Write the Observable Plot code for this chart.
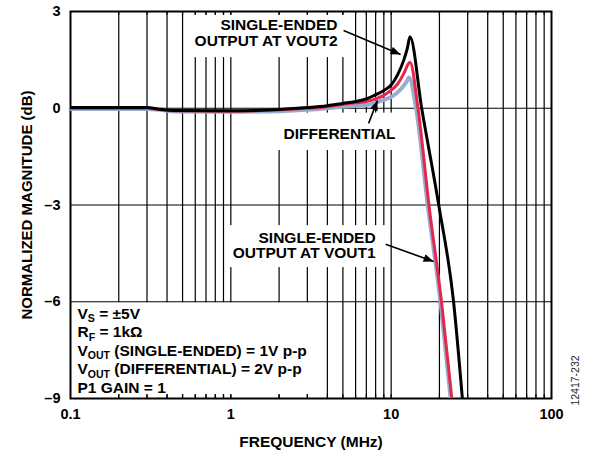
<!DOCTYPE html>
<html><head><meta charset="utf-8">
<script src="https://cdn.jsdelivr.net/npm/d3@7"></script>
<script src="https://cdn.jsdelivr.net/npm/@observablehq/plot@0.6"></script>
<style>
body{margin:0;background:#fff;}
#chart{width:590px;height:454px;}
</style></head><body><div id="chart"></div>
<script>
// ---- data ----
const freqSE2 = [0.1, 0.3, 0.36, 0.45, 1, 2, 3, 4, 5, 6, 7, 8, 9, 10, 11, 12, 12.6, 13.1, 15.5, 19.8, 24.5, 27.8];
const magSE2  = [0.02, 0.02, -0.03, -0.07, -0.08, -0.04, 0.02, 0.08, 0.15, 0.21, 0.29, 0.42, 0.55, 0.72, 1.05, 1.5, 1.85, 2.22, 0, -3, -6, -9];
const freqDiff = [0.1, 0.3, 0.36, 0.45, 1, 2, 3, 4, 5, 6, 7, 8, 9, 10, 11, 12, 12.8, 13.1, 14.7, 17.2, 20.6, 23.9];
const magDiff  = [0.0, 0.0, -0.04, -0.08, -0.09, -0.05, 0.0, 0.05, 0.12, 0.17, 0.21, 0.29, 0.4, 0.56, 0.76, 1.08, 1.38, 1.43, 0, -3, -6, -9];
const freqSE1 = [0.1, 0.3, 0.36, 0.45, 1, 2, 3, 4, 5, 6, 7, 8, 9, 10, 11, 11.8, 12.4, 12.9, 14.3, 16.9, 20.3, 23.5];
const magSE1  = [-0.02, -0.02, -0.05, -0.1, -0.11, -0.09, -0.05, 0.0, 0.05, 0.08, 0.1, 0.17, 0.26, 0.35, 0.5, 0.66, 0.8, 0.95, 0, -3, -6, -9];

const xTicks = [0.1, 1, 10, 100];
const yTicks = [-9, -6, -3, 0, 3];
const gridX = [0.2,0.3,0.4,0.5,0.6,0.7,0.8,0.9,1,2,3,4,5,6,7,8,9,10,20,30,40,50,60,70,80,90];
const gridY = [-6, -3, 0];

const labels = [
  {x: 4.63, y: 2.33, text: "SINGLE-ENDED\nOUTPUT AT VOUT2"},
  {x: 10.65, y: -0.80, text: "DIFFERENTIAL"},
  {x: 8.0, y: -4.25, text: "SINGLE-ENDED\nOUTPUT AT VOUT1"}
];
const legendLines = ["V_S = ±5V", "R_F = 1kΩ", "V_OUT (SINGLE-ENDED) = 1V p-p", "V_OUT (DIFFERENTIAL) = 2V p-p", "P1 GAIN = 1"];
const boxes = [
  {x1: 0.55, x2: 5.4, y1: 2.88, y2: 1.57},
  {x1: 1.8, x2: 11.4, y1: -0.15, y2: -1.31},
  {x1: 0.94, x2: 9.5, y1: -3.64, y2: -4.94},
  {x1: 0.1, x2: 3.63, y1: -6.03, y2: -8.88}
];
const arrows = [
  {x1: 5.05, y1: 2.41, x2: 11.45, y2: 1.67},
  {x1: 7.23, y1: -0.47, x2: 8.22, y2: 0.24},
  {x1: 9.23, y1: -4.22, x2: 18.4, y2: -4.75}
];

const toRows = (f, m) => f.map((x, i) => ({x, y: m[i]}));
const se2 = toRows(freqSE2, magSE2);
const diff = toRows(freqDiff, magDiff);
const se1 = toRows(freqSE1, magSE1);

const font = "'Liberation Sans', Arial, sans-serif";

const chart = Plot.plot({
  width: 590, height: 454,
  marginLeft: 70, marginRight: 39, marginTop: 11, marginBottom: 56,
  style: {fontFamily: font, fontSize: "14.5px", fontWeight: "bold", color: "#000", background: "#fff"},
  x: {type: "log", domain: [0.1, 100]},
  y: {domain: [-9, 3]},
  marks: [
    Plot.ruleX(gridX, {stroke: "#000", strokeWidth: 1.2}),
    Plot.rect(boxes, {x1: "x1", x2: "x2", y1: "y1", y2: "y2", fill: "#fff"}),
    Plot.ruleY(gridY, {stroke: "#000", strokeWidth: 1.2}),
    Plot.ruleX(gridX, {y1: -9, y2: -8.88, stroke: "#000", strokeWidth: 1.2}),
    Plot.ruleX(gridX, {y1: 3, y2: 2.88, stroke: "#000", strokeWidth: 1.2}),
    Plot.frame({stroke: "#000", strokeWidth: 2}),
    Plot.line(se1, {x: "x", y: "y", stroke: "#98acd0", strokeWidth: 4, curve: "monotone-x", clip: true}),
    Plot.line(diff, {x: "x", y: "y", stroke: "#e3284b", strokeWidth: 3, curve: "monotone-x", clip: true}),
    Plot.line(se2, {x: "x", y: "y", stroke: "#000", strokeWidth: 3, curve: "monotone-x", clip: true}),
    Plot.link(arrows, {x1: "x1", y1: "y1", x2: "x2", y2: "y2", stroke: "#000", strokeWidth: 1.6}),
    Plot.text(labels, {x: "x", y: "y", text: "text", textAnchor: "end", lineAnchor: "middle", lineHeight: 1.0, fontSize: 15.5, fontWeight: "bold", fill: "#000"}),
    Plot.text([legendLines.join("\n")], {frameAnchor: "bottom-left", dx: 7, dy: -6, textAnchor: "start", lineAnchor: "bottom", lineHeight: 1.19, fontSize: 15.5, fontWeight: "bold", fill: "#000"}),
    Plot.text(["12417-232"], {frameAnchor: "bottom-right", dx: 27, dy: -18, rotate: -90, textAnchor: "middle", fontSize: 10.5, fontWeight: "normal", fill: "#222"}),
    Plot.axisX(xTicks, {anchor: "bottom", tickSize: 0, tickPadding: 10, tickFormat: d => String(d), label: null, fontSize: 14.5}),
    Plot.text(["FREQUENCY (MHz)"], {frameAnchor: "bottom", dy: 48, fontSize: 15.5, fontWeight: "bold", fill: "#000", lineAnchor: "bottom"}),
    Plot.axisY(yTicks, {anchor: "left", tickSize: 0, tickPadding: 10, tickFormat: d => String(d).replace("-", "\u2013"), label: null, fontSize: 14.5}),
    Plot.text(["NORMALIZED MAGNITUDE (dB)"], {frameAnchor: "left", dx: -43, rotate: -90, textAnchor: "middle", lineAnchor: "middle", fontSize: 15, fontWeight: "bold", fill: "#000"})
  ]
});

// subscripts in the condition block
d3.select(chart).selectAll("tspan, text").each(function() {
  if (this.children.length) return;
  const t = this.textContent;
  const m = t.match(/^([^_]*)_([A-Z]+)(.*)$/);
  if (!m) return;
  const el = d3.select(this);
  el.text(null);
  el.append("tspan").text(m[1]);
  el.append("tspan").attr("dy", 3.5).attr("font-size", 10.5).text(m[2]);
  el.append("tspan").attr("dy", -3.5).text(m[3]);
});

// filled arrow heads
const svg = d3.select(chart.tagName === "svg" ? chart : chart.querySelector("svg"));
svg.append("defs").append("marker")
  .attr("id", "ahead").attr("viewBox", "0 0 10 8").attr("refX", 10).attr("refY", 4)
  .attr("markerWidth", 11).attr("markerHeight", 8).attr("markerUnits", "userSpaceOnUse")
  .attr("orient", "auto")
  .append("path").attr("d", "M0,0L10,4L0,8Z").attr("fill", "#000");
svg.selectAll("g[aria-label='link'] path").attr("marker-end", "url(#ahead)");

document.getElementById("chart").appendChild(chart);
</script></body></html>
